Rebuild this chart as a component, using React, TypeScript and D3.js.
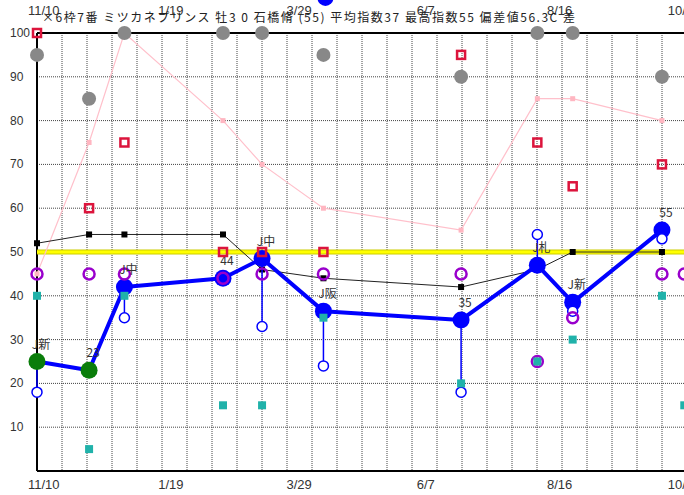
import React from "react";
import * as d3 from "d3";

// ---- data ----
const raceDates = ["2020-11-10","2020-12-08","2020-12-27","2021-02-18","2021-03-11","2021-04-13","2021-06-26","2021-08-06","2021-08-25","2021-10-12","2021-10-24"];
const mainIndex: (number|null)[] = [25,23,42,44,48.5,36.5,34.5,47,38.5,55,null];
const mainLabels: (string|null)[] = ["J新","23","J中","44","J中","J阪","35","J札","J新","55",null];
const mainColors = ["green","green","blue","blue","blue","blue","blue","blue","blue","blue","blue"];
const lowIndex: (number|null)[] = [18,null,35,null,33,24,18,54,36.5,53,null];
const purpleVals: (number|null)[] = [45,45,45,44,45,45,45,25,35,45,45];
const tealVals: (number|null)[] = [40,5,40,15,15,35,20,25,30,40,15];
const redVals: (number|null)[] = [100,60,75,50,50,50,95,75,65,70,null];
const grayVals: (number|null)[] = [95,85,100,100,100,95,90,100,100,90,null];
const pinkVals: (number|null)[] = [45,75,100,80,70,60,55,85,85,80,null];
const blackVals: (number|null)[] = [52,54,54,54,46,44,42,46,50,50,null];
const extraBlue: (number|null)[] = [null,null,null,null,null,108,null,null,null,null,null];
const baseLine = 50;
const yTicks = [10,20,30,40,50,60,70,80,90,100];
const xTickDates = ["2020-11-10","2021-01-19","2021-03-29","2021-06-07","2021-08-16","2021-10-20"];
const xTickLabels = ["11/10","1/19","3/29","6/7","8/16","10/20"];
const title = "×6枠7番 ミツカネプリンス 牡3 0 石橋脩 (55) 平均指数37 最高指数55 偏差値56.3C 差";

const W = 684, H = 495;
const left = 37, top = 33, bottom = 471;

export default function App() {
  const x = d3.scaleUtc()
    .domain([new Date("2020-11-10"), new Date("2021-10-31")])
    .range([left, left + 355 * 1.86]);
  const y = d3.scaleLinear().domain([0, 100]).range([bottom, top]);
  const pts = raceDates.map((d) => x(new Date(d)));
  const gridX = d3.range(1, 27).map((i) => left + i * 25);

  const lineOf = (vals: (number|null)[]) =>
    d3.line<number>()
      .defined((_, i) => vals[i] != null)
      .x((_, i) => pts[i])
      .y((_, i) => y(vals[i] as number))(vals.map((v) => v ?? 0)) || "";

  const font = "'Liberation Sans', Arial, sans-serif";
  const jfont = "'Noto Sans CJK JP', sans-serif";

  return (
    <div style={{ position: "absolute", left: 0, top: 0 }}>
      <svg width={W} height={H} style={{ display: "block", background: "#fff" }}>
        {/* grid */}
        {yTicks.filter((t) => t < 100).map((t) => (
          <line key={"gy" + t} x1={left} x2={W} y1={y(t)} y2={y(t)} stroke="#444" strokeWidth={1} strokeDasharray="1,1" />
        ))}
        {gridX.map((gx) => (
          <line key={"gx" + gx} x1={gx} x2={gx} y1={top} y2={bottom} stroke="#444" strokeWidth={1} strokeDasharray="1,1" />
        ))}
        {/* axes */}
        <line x1={left} x2={W} y1={top} y2={top} stroke="#000" strokeWidth={2} />
        <line x1={left} x2={W} y1={bottom} y2={bottom} stroke="#000" strokeWidth={2} />
        <line x1={left} x2={left} y1={top} y2={bottom} stroke="#000" strokeWidth={2} />
        {yTicks.map((t) => (
          <text key={"yl" + t} x={10} y={y(t) + 4} fontSize={12} fontFamily={font} fill="#333">{t}</text>
        ))}
        {xTickDates.map((d, i) => (
          <g key={"xl" + i}>
            <text x={x(new Date(d)) - 9} y={15} fontSize={13} fontFamily={font} fill="#333">{xTickLabels[i]}</text>
            <text x={x(new Date(d)) - 9} y={489} fontSize={13} fontFamily={font} fill="#333">{xTickLabels[i]}</text>
          </g>
        ))}
        <text x={42} y={22} fontSize={12} fontFamily={jfont} fill="#222" textLength={533} lengthAdjust="spacing">{title}</text>

        {/* yellow baseline */}
        <line x1={left} x2={W} y1={y(baseLine)} y2={y(baseLine)} stroke="#cccc00" strokeWidth={5} />
        <line x1={left} x2={W} y1={y(baseLine)} y2={y(baseLine)} stroke="#ffff00" strokeWidth={3} />

        {/* pink line */}
        <path d={lineOf(pinkVals)} fill="none" stroke="#ffc0cb" strokeWidth={1.2} />
        {pinkVals.map((v, i) => v == null ? null : (
          <rect key={"pk" + i} x={pts[i] - 2.5} y={y(v) - 2.5} width={5} height={5} fill="#ffb6c1" />
        ))}
        {/* black line */}
        <path d={lineOf(blackVals)} fill="none" stroke="#222" strokeWidth={1} />
        {blackVals.map((v, i) => v == null ? null : (
          <rect key={"bk" + i} x={pts[i] - 3} y={y(v) - 3} width={6} height={6} fill="#000" />
        ))}
        {/* gray circles */}
        {grayVals.map((v, i) => v == null ? null : (
          <circle key={"gr" + i} cx={pts[i]} cy={y(v)} r={7} fill="#888" />
        ))}
        {extraBlue.map((v, i) => v == null ? null : (
          <circle key={"eb" + i} cx={pts[i] + 2} cy={y(v)} r={8} fill="#0000ff" />
        ))}
        {/* thin blue drop lines */}
        {lowIndex.map((v, i) => v == null || mainIndex[i] == null ? null : (
          <line key={"dl" + i} x1={pts[i]} x2={pts[i]} y1={y(mainIndex[i] as number)} y2={y(v)} stroke="#0000ff" strokeWidth={1.5} />
        ))}
        {/* main blue line */}
        <path d={lineOf(mainIndex)} fill="none" stroke="#0000ff" strokeWidth={4} strokeLinejoin="round" />
        {mainIndex.map((v, i) => v == null ? null : (
          <circle key={"md" + i} cx={pts[i]} cy={y(v)} r={8.5} fill={mainColors[i] === "green" ? "#0a7d0a" : "#0000ff"} />
        ))}
        {/* open blue circles */}
        {lowIndex.map((v, i) => v == null ? null : (
          <circle key={"oc" + i} cx={pts[i]} cy={y(v)} r={5} fill="#fff" stroke="#0000ff" strokeWidth={1.5} />
        ))}
        {/* purple rings */}
        {purpleVals.map((v, i) => v == null ? null : (
          <circle key={"pp" + i} cx={pts[i]} cy={y(v)} r={5.5} fill="none" stroke="#9900cc" strokeWidth={2.5} />
        ))}
        {/* teal squares */}
        {tealVals.map((v, i) => v == null ? null : (
          <rect key={"tl" + i} x={pts[i] - 4} y={y(v) - 4} width={8} height={8} fill="#20b2aa" />
        ))}
        {/* labels */}
        {mainIndex.map((v, i) => v == null || mainLabels[i] == null ? null : (
          <text key={"lb" + i} x={pts[i] + 4} y={y(v) - 13} fontSize={12} fontFamily={jfont} fill="#333" textAnchor="middle">{mainLabels[i]}</text>
        ))}
        {/* red hollow squares */}
        {redVals.map((v, i) => v == null ? null : (
          <rect key={"rd" + i} x={pts[i] - 4} y={y(v) - 4} width={8} height={8} fill="none" stroke="#dc143c" strokeWidth={2.5} />
        ))}
      </svg>
    </div>
  );
}
